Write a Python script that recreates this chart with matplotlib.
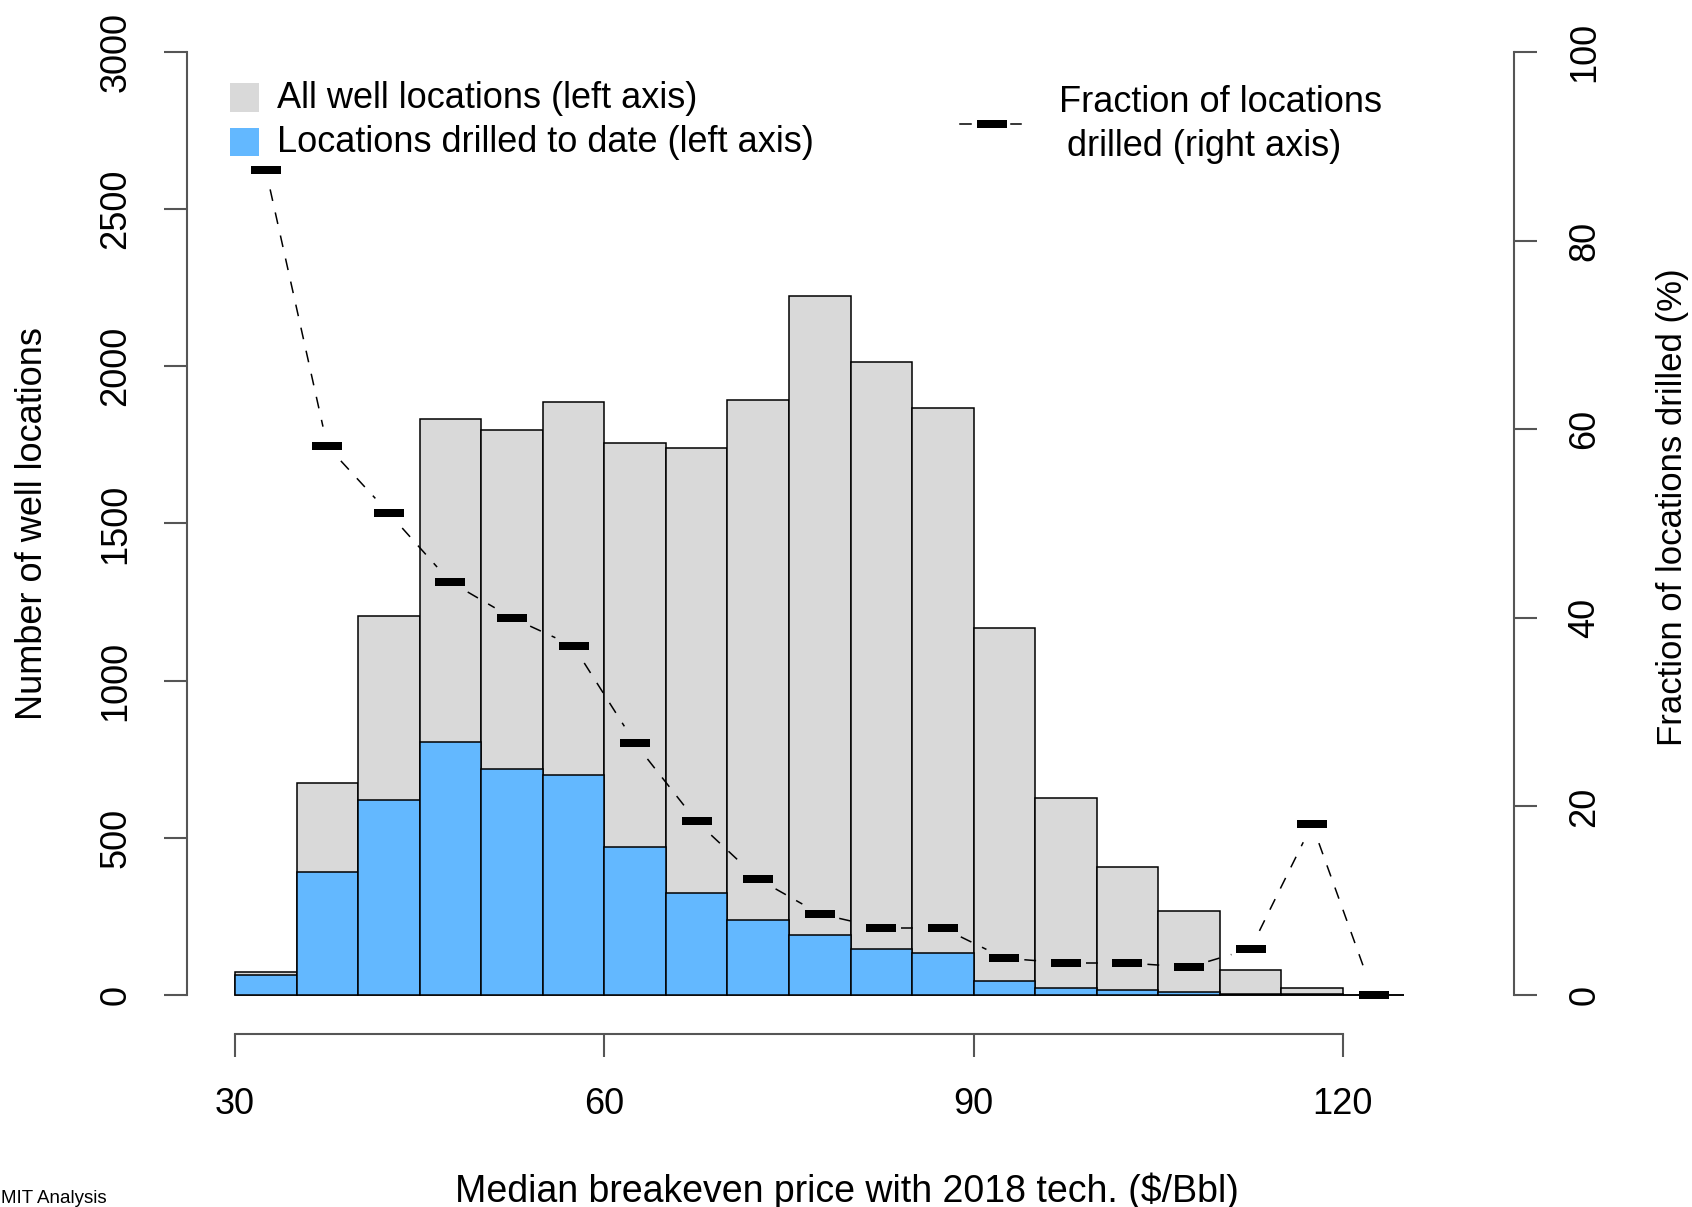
import numpy as np
import matplotlib
matplotlib.use("Agg")
import matplotlib.pyplot as plt
from matplotlib.lines import Line2D
from matplotlib.patches import Rectangle
from matplotlib.path import Path

plt.rcParams['font.family'] = ['Liberation Sans', 'DejaVu Sans']
plt.rcParams['lines.scale_dashes'] = False
NARROW = ['Liberation Sans Narrow', 'Liberation Sans', 'DejaVu Sans']

# histogram bins ($/Bbl), 5 wide
bin_edges = list(range(30, 130, 5))
all_wells = [72, 674, 1205, 1834, 1798, 1887, 1755, 1741, 1894, 2224,
             2015, 1867, 1169, 626, 406, 267, 80, 23, 0]
drilled = [63, 391, 619, 806, 718, 699, 471, 323, 237, 191,
           146, 132, 46, 23, 15, 8, 4, 4, 0]
frac_drilled = [87.5, 58.2, 51.1, 43.8, 40.0, 37.0, 26.7, 18.4, 12.3, 8.6,
                7.1, 7.1, 3.9, 3.4, 3.4, 2.95, 4.9, 18.1, 0.0]

W, H = 1692, 1207
fig = plt.figure(figsize=(W / 100, H / 100), dpi=100)

def fx(px):
    return px / W

def fy(py):
    return 1 - py / H

# axes box in pixels: left spine 187, right spine 1514, x-axis line 1034, 3000 at 52
ax = fig.add_axes([fx(187), fy(1034), fx(1514) - fx(187), fy(52) - fy(1034)])
ax.set_xlim(26.1, 133.9)
ax.set_ylim(-124.1, 3000)

left = np.array(bin_edges[:-1])
mids = left + 2.5
gray = '#D9D9D9'
blue = '#63B8FF'
ax.bar(left, all_wells, width=5, align='edge', color=gray, edgecolor='black', linewidth=1.1, zorder=2)
ax.bar(left, drilled, width=5, align='edge', color=blue, edgecolor='black', linewidth=1.1, zorder=3)

axis_col = '#555555'
for s in ['top', 'right']:
    ax.spines[s].set_visible(False)
ax.spines['left'].set_bounds(0, 3000)
ax.spines['bottom'].set_bounds(30, 120)
for s in ['left', 'bottom']:
    ax.spines[s].set_color(axis_col)
    ax.spines[s].set_linewidth(1.5)
ax.set_xticks([30, 60, 90, 120])
ax.set_yticks(range(0, 3001, 500))
ax.tick_params(axis='both', length=16.5, width=1.5, color=axis_col, direction='out')
ax.tick_params(axis='y', pad=22, labelsize=26, labelrotation=90)
ax.tick_params(axis='x', pad=22, labelsize=26)
for lab in ax.get_yticklabels():
    lab.set_va('center')
for lab in ax.get_xticklabels():
    lab.set_family(NARROW)

ax2 = ax.twinx()
ax2.set_ylim(-124.1 / 30, 100)
for s in ['top', 'left', 'bottom']:
    ax2.spines[s].set_visible(False)
ax2.spines['right'].set_bounds(0, 100)
ax2.spines['right'].set_color(axis_col)
ax2.spines['right'].set_linewidth(1.5)
ax2.set_yticks(range(0, 101, 20))
ax2.tick_params(axis='y', length=16.5, width=1.5, color=axis_col, pad=22, labelsize=26, labelrotation=90)
for lab in ax2.get_yticklabels():
    lab.set_va('center')

# fraction line, R type="b": dashes stop short of each point
bar_marker = Path([(-1, -0.29), (1, -0.29), (1, 0.29), (-1, 0.29), (-1, -0.29)],
                  [Path.MOVETO, Path.LINETO, Path.LINETO, Path.LINETO, Path.CLOSEPOLY])
pts = ax2.transData.transform(np.column_stack([mids, frac_drilled]))
gap = 20
inv = ax2.transData.inverted()
for i in range(len(pts) - 1):
    p0, p1 = pts[i], pts[i + 1]
    d = p1 - p0
    L = np.hypot(*d)
    if L <= 2 * gap:
        continue
    u = d / L
    seg = inv.transform(np.array([p0 + u * gap, p1 - u * gap]))
    ax2.plot(seg[:, 0], seg[:, 1], color='black', lw=1.1, ls=(0, (8.5, 8.5)), zorder=4)
ax2.plot(mids, frac_drilled, ls='none', marker=bar_marker, markersize=21.5,
         color='black', mec='black', mew=0, zorder=5)

# legend (left)
fig.add_artist(Rectangle((fx(230), fy(112)), fx(259) - fx(230), fy(83) - fy(112),
                         transform=fig.transFigure, facecolor=gray, edgecolor='none'))
fig.add_artist(Rectangle((fx(230), fy(156)), fx(259) - fx(230), fy(128) - fy(156),
                         transform=fig.transFigure, facecolor=blue, edgecolor='none'))
fig.text(fx(277), fy(98), 'All well locations (left axis)', fontsize=26, family=NARROW, va='center', ha='left')
fig.text(fx(277), fy(142), 'Locations drilled to date (left axis)', fontsize=26, family=NARROW, va='center', ha='left')

# legend (right)
for x0, x1 in [(960, 971), (1011, 1021)]:
    fig.add_artist(Line2D([fx(x0), fx(x1)], [fy(124), fy(124)], transform=fig.transFigure,
                          color='black', lw=1.1))
fig.add_artist(Line2D([fx(991.5)], [fy(124)], transform=fig.transFigure, ls='none',
                      marker=bar_marker, markersize=21.5, color='black', mew=0))
fig.text(fx(1059), fy(103), 'Fraction of locations', fontsize=26, family=NARROW, va='center', ha='left')
fig.text(fx(1067), fy(147), 'drilled (right axis)', fontsize=26, family=NARROW, va='center', ha='left')

# axis titles
fig.text(fx(33), fy(524), 'Number of well locations', fontsize=26, rotation=90, va='center', ha='center')
fig.text(fx(1672), fy(507), 'Fraction of locations drilled (%)', fontsize=25, rotation=90, va='center', ha='center')
fig.text(fx(847), fy(1191), 'Median breakeven price with 2018 tech. ($/Bbl)', fontsize=27, family=NARROW,
         va='center', ha='center')
fig.text(fx(1), fy(1203), 'MIT Analysis', fontsize=13.5, va='baseline', ha='left')

fig.savefig('out.png', dpi=100)
